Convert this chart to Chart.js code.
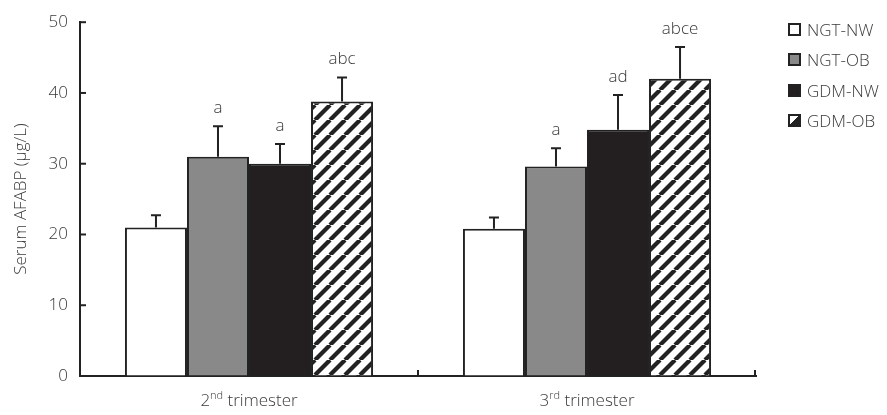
<!DOCTYPE html>
<html>
<head>
<meta charset="utf-8">
<script src="https://cdn.jsdelivr.net/npm/chart.js@4.4.0/dist/chart.umd.min.js"></script>
<style>
  body { margin: 0; background: #fff; }
  #wrap { position: relative; width: 887px; height: 415px; }
  #legend { position: absolute; left: 788px; top: 14px; font-family: 'Open Sans', sans-serif; font-weight: 300; font-size: 17px; color: #3a3a3a; }
  .item { display: flex; align-items: center; height: 30.5px; }
  .swatch { width: 13px; height: 13px; box-sizing: border-box; border: 2px solid #222; margin-right: 6px; }
</style>
</head>
<body>
<div id="wrap">
  <canvas id="chart" width="887" height="415"></canvas>
  <div id="legend"></div>
</div>
<script>
// Chart data
const categories = ['2nd trimester', '3rd trimester'];
const seriesNames = ['NGT-NW', 'NGT-OB', 'GDM-NW', 'GDM-OB'];
const ngtNw = [21.0, 20.8];
const ngtOb = [31.0, 29.6];
const gdmNw = [30.0, 34.8];
const gdmOb = [38.8, 42.0];
// upper error (SD)
const ngtNwErr = [1.7, 1.6];
const ngtObErr = [4.3, 2.6];
const gdmNwErr = [2.8, 4.9];
const gdmObErr = [3.4, 4.5];
// significance letters
const ngtNwSig = ['', ''];
const ngtObSig = ['a', 'a'];
const gdmNwSig = ['a', 'ad'];
const gdmObSig = ['abc', 'abce'];
const yTicks = [0, 10, 20, 30, 40, 50];

const FONT = "'Open Sans', sans-serif";
const INK = '#222';
const TEXT = '#3a3a3a';

// Diagonal hatch pattern for GDM-OB
function makeHatch() {
    const s = 15;
    const c = document.createElement('canvas');
    c.width = s; c.height = s;
    const g = c.getContext('2d');
    g.fillStyle = '#fff';
    g.fillRect(0, 0, s, s);
    g.strokeStyle = INK;
    g.lineWidth = 4.2;
    [-1, 0, 1].forEach(k => {
        g.beginPath();
        g.moveTo(k * s, s);
        g.lineTo(k * s + s, 0);
        g.stroke();
    });
    return g.createPattern(c, 'repeat');
}

const values = [ngtNw, ngtOb, gdmNw, gdmOb];
const errors = [ngtNwErr, ngtObErr, gdmNwErr, gdmObErr];
const letters = [ngtNwSig, ngtObSig, gdmNwSig, gdmObSig];
const fills = ['#ffffff', '#898989', '#231f20', makeHatch()];

// Error bars and letters above bars
const errorBars = {
    id: 'errorBars',
    afterDatasetsDraw(chart) {
        const ctx = chart.ctx;
        const y = chart.scales.y;
        ctx.save();
        ctx.strokeStyle = INK;
        ctx.lineWidth = 2;
        ctx.fillStyle = TEXT;
        ctx.font = '300 17px ' + FONT;
        ctx.textAlign = 'center';
        ctx.textBaseline = 'alphabetic';
        chart.data.datasets.forEach((ds, i) => {
            chart.getDatasetMeta(i).data.forEach((bar, j) => {
                const top = y.getPixelForValue(values[i][j] + errors[i][j]);
                ctx.beginPath();
                ctx.moveTo(bar.x, bar.y);
                ctx.lineTo(bar.x, top);
                ctx.moveTo(bar.x - 5, top);
                ctx.lineTo(bar.x + 5, top);
                ctx.stroke();
                if (letters[i][j]) ctx.fillText(letters[i][j], bar.x, top - 13);
            });
        });
        ctx.restore();
    }
};

// Inward ticks and x labels with superscripts
const axisExtras = {
    id: 'axisExtras',
    afterDraw(chart) {
        const ctx = chart.ctx;
        const x = chart.scales.x;
        const y = chart.scales.y;
        const area = chart.chartArea;
        ctx.save();
        ctx.strokeStyle = INK;
        ctx.lineWidth = 2;
        yTicks.forEach(v => {
            const py = y.getPixelForValue(v);
            ctx.beginPath();
            ctx.moveTo(area.left, py);
            ctx.lineTo(area.left + 6, py);
            ctx.stroke();
        });
        const n = categories.length;
        for (let i = 1; i <= n; i++) {
            const px = x.left + i * x.width / n - (i === n ? 1 : 0);
            ctx.beginPath();
            ctx.moveTo(px, area.bottom);
            ctx.lineTo(px, area.bottom - 6);
            ctx.stroke();
        }
        ctx.fillStyle = TEXT;
        ctx.textAlign = 'left';
        ctx.textBaseline = 'alphabetic';
        const big = '300 17px ' + FONT;
        const small = '300 11px ' + FONT;
        categories.forEach((label, i) => {
            const m = label.match(/^(\d+)(st|nd|rd|th)(.*)$/);
            const cx = x.getPixelForValue(i);
            const base = 406;
            ctx.font = big;
            const w1 = ctx.measureText(m[1]).width;
            const w3 = ctx.measureText(m[3]).width;
            ctx.font = small;
            const w2 = ctx.measureText(m[2]).width;
            let sx = cx - (w1 + w2 + w3) / 2;
            ctx.font = big;
            ctx.fillText(m[1], sx, base);
            ctx.font = small;
            ctx.fillText(m[2], sx + w1, base - 7);
            ctx.font = big;
            ctx.fillText(m[3], sx + w1 + w2, base);
        });
        ctx.restore();
    }
};

const ctx = document.getElementById('chart').getContext('2d');
const chart = new Chart(ctx, {
    type: 'bar',
    data: {
        labels: categories,
        datasets: seriesNames.map((name, i) => ({
            label: name,
            data: values[i],
            backgroundColor: fills[i],
            borderColor: INK,
            borderWidth: 2,
            borderSkipped: 'bottom',
            categoryPercentage: 0.734,
            barPercentage: 1
        }))
    },
    options: {
        responsive: false,
        animation: false,
        layout: { padding: { top: 15, right: 131, left: 0, bottom: 0 } },
        plugins: {
            legend: { display: false },
            tooltip: { enabled: false }
        },
        scales: {
            x: {
                afterFit: scale => { scale.height = 39; },
                grid: { display: false, drawTicks: false },
                border: { display: true, color: INK, width: 2 },
                ticks: { display: false }
            },
            y: {
                min: 0,
                max: 50,
                afterFit: scale => { scale.width = 80; },
                afterBuildTicks: scale => { scale.ticks = yTicks.map(v => ({ value: v })); },
                grid: { drawOnChartArea: false, drawTicks: false },
                border: { display: true, color: INK, width: 2 },
                ticks: { font: { family: FONT, size: 17, weight: 300 }, color: TEXT, padding: 12 },
                title: {
                    display: true,
                    text: 'Serum AFABP (μg/L)',
                    font: { family: FONT, size: 17, weight: 300 },
                    color: TEXT,
                    padding: { top: 11, bottom: 0 }
                }
            }
        }
    },
    plugins: [errorBars, axisExtras]
});

// HTML legend
const swatchStyles = [
    'background:#fff',
    'background:#898989',
    'background:#231f20',
    'background:linear-gradient(to bottom right, #fff 48%, #222 48%)'
];
const legend = document.getElementById('legend');
seriesNames.forEach((name, i) => {
    const item = document.createElement('div');
    item.className = 'item';
    item.innerHTML = `<span class="swatch" style="${swatchStyles[i]}"></span><span>${name}</span>`;
    legend.appendChild(item);
});
</script>
</body>
</html>
